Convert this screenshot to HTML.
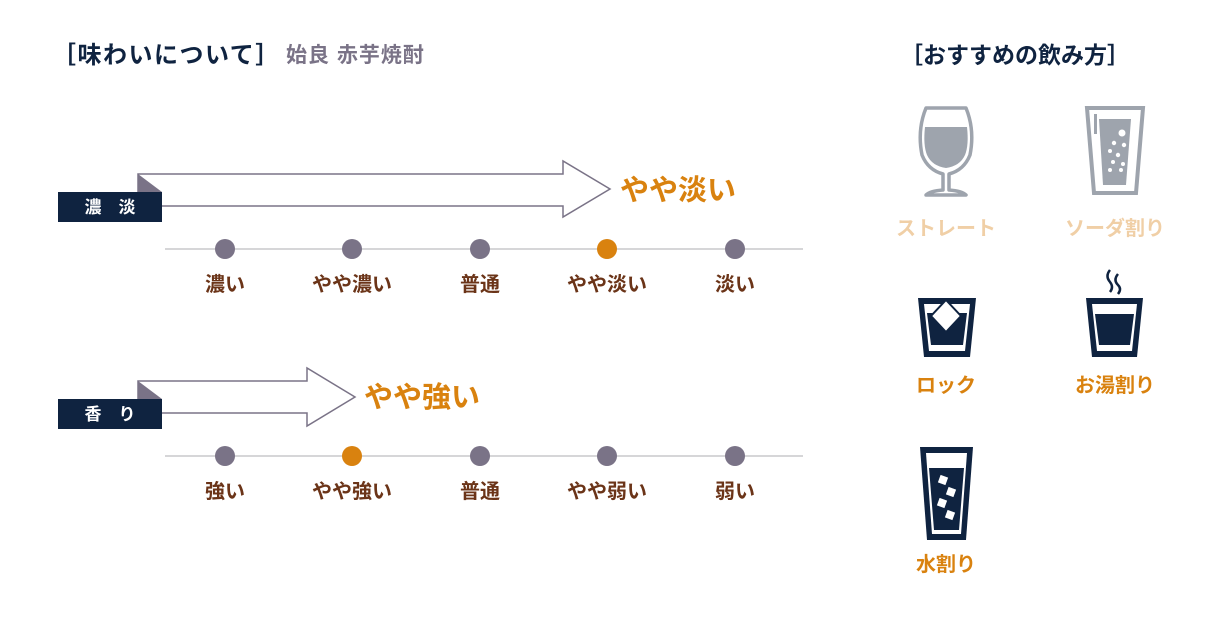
<!DOCTYPE html>
<html><head><meta charset="utf-8"><style>
html,body{margin:0;padding:0;background:#fff;}
svg{display:block;}
text{font-family:"Liberation Sans","Noto Sans CJK JP",sans-serif;}
</style></head><body>
<svg width="1220" height="620" viewBox="0 0 1220 620" xmlns="http://www.w3.org/2000/svg">
<text x="52" y="63" font-size="24" font-weight="bold" fill="#0f2340" letter-spacing="1.5">［味わいについて］</text>
<text x="286" y="62" font-size="21" font-weight="bold" fill="#7a7387" letter-spacing="1">始良 赤芋焼酎</text>
<text x="900" y="63" font-size="23" font-weight="bold" fill="#0f2340">［おすすめの飲み方］</text>

<polygon points="138,174 563,174 563,161 610,189 563,217 563,206 138,206" fill="#fff" stroke="#7a7387" stroke-width="1.5"/>
<polygon points="138,174 162,192 138,192" fill="#7a7387"/>
<rect x="58" y="192" width="104" height="30" fill="#0f2340"/>
<text x="110" y="213" font-size="17" fill="#fff" text-anchor="middle" font-weight="bold">濃　淡</text>
<text x="620" y="200" font-size="29" font-weight="bold" fill="#d9820f">やや淡い</text>
<line x1="165" y1="249" x2="803" y2="249" stroke="#c8c8cc" stroke-width="1.5"/>
<g fill="#7a7387"><circle cx="225" cy="249" r="10"/><circle cx="352" cy="249" r="10"/><circle cx="480" cy="249" r="10"/><circle cx="735" cy="249" r="10"/></g>
<circle cx="607" cy="249" r="10" fill="#d9820f"/>
<g font-size="20" fill="#6b3418" text-anchor="middle" font-weight="bold">
<text x="225" y="291">濃い</text><text x="352" y="291">やや濃い</text><text x="480" y="291">普通</text><text x="607" y="291">やや淡い</text><text x="735" y="291">淡い</text>
</g>

<polygon points="138,381 307,381 307,368 355,397 307,426 307,413 138,413" fill="#fff" stroke="#7a7387" stroke-width="1.5"/>
<polygon points="138,381 162,399 138,399" fill="#7a7387"/>
<rect x="58" y="399" width="104" height="30" fill="#0f2340"/>
<text x="110" y="420" font-size="17" fill="#fff" text-anchor="middle" font-weight="bold">香　り</text>
<text x="364" y="407" font-size="29" font-weight="bold" fill="#d9820f">やや強い</text>
<line x1="165" y1="456" x2="803" y2="456" stroke="#c8c8cc" stroke-width="1.5"/>
<g fill="#7a7387"><circle cx="225" cy="456" r="10"/><circle cx="480" cy="456" r="10"/><circle cx="607" cy="456" r="10"/><circle cx="735" cy="456" r="10"/></g>
<circle cx="352" cy="456" r="10" fill="#d9820f"/>
<g font-size="20" fill="#6b3418" text-anchor="middle" font-weight="bold">
<text x="225" y="498">強い</text><text x="352" y="498">やや強い</text><text x="480" y="498">普通</text><text x="607" y="498">やや弱い</text><text x="735" y="498">弱い</text>
</g>

<path d="M926,108 L966,108 Q975,130 970,155 Q964,170 949,174 L949,190 Q962,191 966,195 L926,195 Q930,191 943,190 L943,174 Q928,170 922,155 Q917,130 926,108 Z" fill="none" stroke="#9ea4ad" stroke-width="3.5" stroke-linejoin="round"/>
<path d="M925,127 L967,127 Q969,145 965,155 Q960,166 946,168 Q932,166 927,155 Q923,145 925,127 Z" fill="#9ea4ad"/>
<text x="946" y="235" font-size="20" fill="#f0cfa6" text-anchor="middle" font-weight="bold">ストレート</text>

<path d="M1087,108 L1143,108 L1136,193 L1094,193 Z" fill="none" stroke="#9ea4ad" stroke-width="4"/>
<path d="M1099,119 L1131,119 L1126,185 L1103,185 Z" fill="#9ea4ad"/>
<rect x="1094" y="114" width="3" height="20" fill="#9ea4ad"/>
<g fill="#fff"><circle cx="1122" cy="133" r="3.5"/><circle cx="1114" cy="143" r="2.2"/><circle cx="1124" cy="145" r="2.2"/><circle cx="1110" cy="151" r="2"/><circle cx="1118" cy="155" r="2.2"/><circle cx="1113" cy="162" r="2"/><circle cx="1123" cy="164" r="2"/><circle cx="1110" cy="170" r="2"/><circle cx="1121" cy="170" r="2"/></g>
<text x="1115" y="235" font-size="20" fill="#f0cfa6" text-anchor="middle" font-weight="bold">ソーダ割り</text>

<path d="M918,298 L976,298 L970,357 L924,357 Z" fill="#0f2340"/>
<path d="M924,304 L970,304 L965,351 L929,351 Z" fill="#fff"/>
<path d="M927,313 L967,313 L963,345 L931,345 Z" fill="#0f2340"/>
<polygon points="946,300 961,316 946,332 931,316" fill="#fff" stroke="#0f2340" stroke-width="2"/>
<text x="946" y="392" font-size="20" fill="#d9820f" text-anchor="middle" font-weight="bold">ロック</text>

<path d="M1086,298 L1143,298 L1137,357 L1092,357 Z" fill="#0f2340"/>
<path d="M1092,304 L1137,304 L1132,351 L1097,351 Z" fill="#fff"/>
<path d="M1095,314 L1134,314 L1130,345 L1099,345 Z" fill="#0f2340"/>
<path d="M1110,270 Q1105,276 1110,282 Q1114,287 1110,292" fill="none" stroke="#0f2340" stroke-width="2.5"/>
<path d="M1118,274 Q1113,280 1118,285 Q1122,289 1118,294" fill="none" stroke="#0f2340" stroke-width="2.5"/>
<text x="1115" y="392" font-size="20" fill="#d9820f" text-anchor="middle" font-weight="bold">お湯割り</text>

<path d="M920,447 L973,447 L966,540 L927,540 Z" fill="#0f2340"/>
<path d="M926,453 L967,453 L961,534 L932,534 Z" fill="#fff"/>
<path d="M929,468 L964,468 L959,530 L934,530 Z" fill="#0f2340"/>
<g fill="#fff"><rect x="939" y="476" width="8" height="8" transform="rotate(20 943 480)"/><rect x="947" y="488" width="8" height="8" transform="rotate(20 951 492)"/><rect x="938" y="499" width="8" height="8" transform="rotate(20 942 503)"/><rect x="946" y="511" width="8" height="8" transform="rotate(20 950 515)"/></g>
<text x="946" y="571" font-size="20" fill="#d9820f" text-anchor="middle" font-weight="bold">水割り</text>
</svg>
</body></html>
